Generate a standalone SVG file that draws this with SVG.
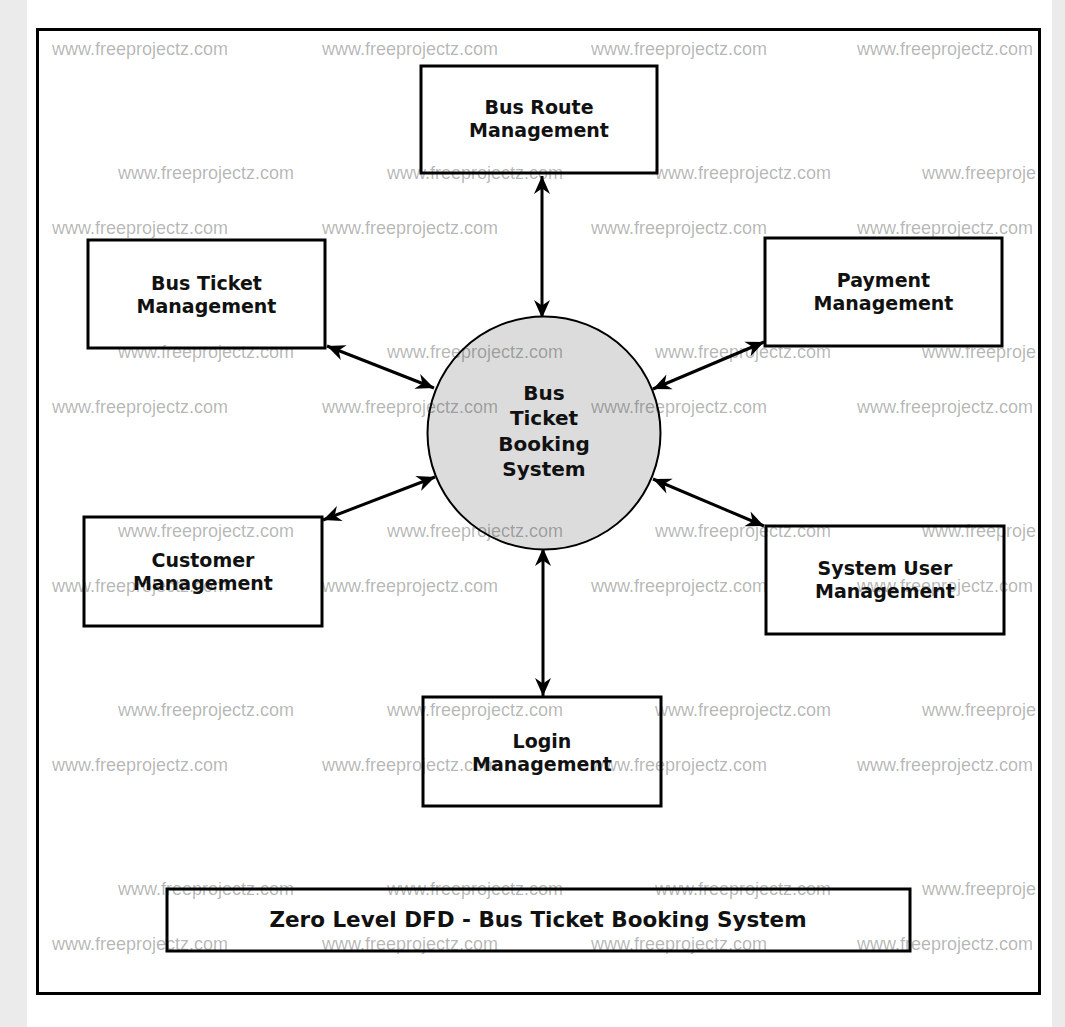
<svg xmlns="http://www.w3.org/2000/svg" width="1065" height="1027" viewBox="0 0 1065 1027">
<style>
.box{fill:#fff;stroke:#000;stroke-width:3}
.proc{fill:#dcdcdc;stroke:#000;stroke-width:2}
.lbl{font-family:"DejaVu Sans",sans-serif;font-weight:bold;font-size:19px;fill:#111;text-anchor:middle}
.plbl{font-family:"DejaVu Sans",sans-serif;font-weight:bold;font-size:20px;fill:#111;text-anchor:middle}
.ttl{font-family:"DejaVu Sans",sans-serif;font-weight:bold;font-size:21.5px;fill:#111;text-anchor:middle}
.flow{fill:none;stroke:#000;stroke-width:3}
.wm{font-family:"Liberation Sans",Arial,sans-serif;font-size:18px;fill:#000;fill-opacity:0.3}
</style>
<defs>
<marker id="ah" viewBox="-19 -9 20 18" refX="0" refY="0" markerWidth="20" markerHeight="18" markerUnits="userSpaceOnUse" orient="auto-start-reverse">
<path d="M0,0 L-18,-8 L-12.5,0 L-18,8 Z" fill="#000"/>
</marker>
</defs>
<rect x="0" y="0" width="1065" height="1027" fill="#fff"/>
<rect x="0" y="0" width="27" height="1027" fill="#ebebeb"/>
<rect x="1052" y="0" width="13" height="1027" fill="#ebebeb"/>
<rect x="37.5" y="29.5" width="1002" height="964" fill="#fff" stroke="#000" stroke-width="3"/>

<g id="connectors">
<line class="flow" x1="542" y1="176" x2="542" y2="318" marker-start="url(#ah)" marker-end="url(#ah)"/>
<line class="flow" x1="327" y1="346" x2="434" y2="388" marker-start="url(#ah)" marker-end="url(#ah)"/>
<line class="flow" x1="764" y1="342" x2="653" y2="389" marker-start="url(#ah)" marker-end="url(#ah)"/>
<line class="flow" x1="323" y1="520" x2="435" y2="477" marker-start="url(#ah)" marker-end="url(#ah)"/>
<line class="flow" x1="653" y1="479" x2="764" y2="526" marker-start="url(#ah)" marker-end="url(#ah)"/>
<line class="flow" x1="543" y1="548" x2="543" y2="696" marker-start="url(#ah)" marker-end="url(#ah)"/>
</g>

<g id="bus-route">
<rect class="box" x="421" y="66" width="236" height="107"/>
<text class="lbl" x="539" y="114">Bus Route</text>
<text class="lbl" x="539" y="137">Management</text>
</g>
<g id="bus-ticket">
<rect class="box" x="88" y="240" width="237" height="108"/>
<text class="lbl" x="206.5" y="290">Bus Ticket</text>
<text class="lbl" x="206.5" y="313">Management</text>
</g>
<g id="payment">
<rect class="box" x="765" y="238" width="237" height="108"/>
<text class="lbl" x="883.5" y="287">Payment</text>
<text class="lbl" x="883.5" y="310">Management</text>
</g>
<g id="system">
<circle class="proc" cx="544" cy="433" r="116.5"/>
<text class="plbl" x="544" y="400">Bus</text>
<text class="plbl" x="544" y="425">Ticket</text>
<text class="plbl" x="544" y="451">Booking</text>
<text class="plbl" x="544" y="476">System</text>
</g>
<g id="customer">
<rect class="box" x="84" y="517" width="238" height="109"/>
<text class="lbl" x="203" y="567">Customer</text>
<text class="lbl" x="203" y="590">Management</text>
</g>
<g id="system-user">
<rect class="box" x="766" y="526" width="238" height="108"/>
<text class="lbl" x="885" y="575">System User</text>
<text class="lbl" x="885" y="598">Management</text>
</g>
<g id="login">
<rect class="box" x="423" y="697" width="238" height="109"/>
<text class="lbl" x="542" y="748">Login</text>
<text class="lbl" x="542" y="771">Management</text>
</g>
<g id="title">
<rect class="box" x="167" y="889" width="743" height="62"/>
<text class="ttl" x="538" y="927">Zero Level DFD - Bus Ticket Booking System</text>
</g>

<g id="watermarks" class="wm">
<text x="52" y="55">www.freeprojectz.com</text><text x="322" y="55">www.freeprojectz.com</text><text x="591" y="55">www.freeprojectz.com</text><text x="857" y="55">www.freeprojectz.com</text>
<text x="118" y="179">www.freeprojectz.com</text><text x="387" y="179">www.freeprojectz.com</text><text x="655" y="179">www.freeprojectz.com</text><text x="922" y="179">www.freeproje</text>
<text x="52" y="234">www.freeprojectz.com</text><text x="322" y="234">www.freeprojectz.com</text><text x="591" y="234">www.freeprojectz.com</text><text x="857" y="234">www.freeprojectz.com</text>
<text x="118" y="358">www.freeprojectz.com</text><text x="387" y="358">www.freeprojectz.com</text><text x="655" y="358">www.freeprojectz.com</text><text x="922" y="358">www.freeproje</text>
<text x="52" y="413">www.freeprojectz.com</text><text x="322" y="413">www.freeprojectz.com</text><text x="591" y="413">www.freeprojectz.com</text><text x="857" y="413">www.freeprojectz.com</text>
<text x="118" y="537">www.freeprojectz.com</text><text x="387" y="537">www.freeprojectz.com</text><text x="655" y="537">www.freeprojectz.com</text><text x="922" y="537">www.freeproje</text>
<text x="52" y="592">www.freeprojectz.com</text><text x="322" y="592">www.freeprojectz.com</text><text x="591" y="592">www.freeprojectz.com</text><text x="857" y="592">www.freeprojectz.com</text>
<text x="118" y="716">www.freeprojectz.com</text><text x="387" y="716">www.freeprojectz.com</text><text x="655" y="716">www.freeprojectz.com</text><text x="922" y="716">www.freeproje</text>
<text x="52" y="771">www.freeprojectz.com</text><text x="322" y="771">www.freeprojectz.com</text><text x="591" y="771">www.freeprojectz.com</text><text x="857" y="771">www.freeprojectz.com</text>
<text x="118" y="895">www.freeprojectz.com</text><text x="387" y="895">www.freeprojectz.com</text><text x="655" y="895">www.freeprojectz.com</text><text x="922" y="895">www.freeproje</text>
<text x="52" y="950">www.freeprojectz.com</text><text x="322" y="950">www.freeprojectz.com</text><text x="591" y="950">www.freeprojectz.com</text><text x="857" y="950">www.freeprojectz.com</text>
</g>
</svg>
